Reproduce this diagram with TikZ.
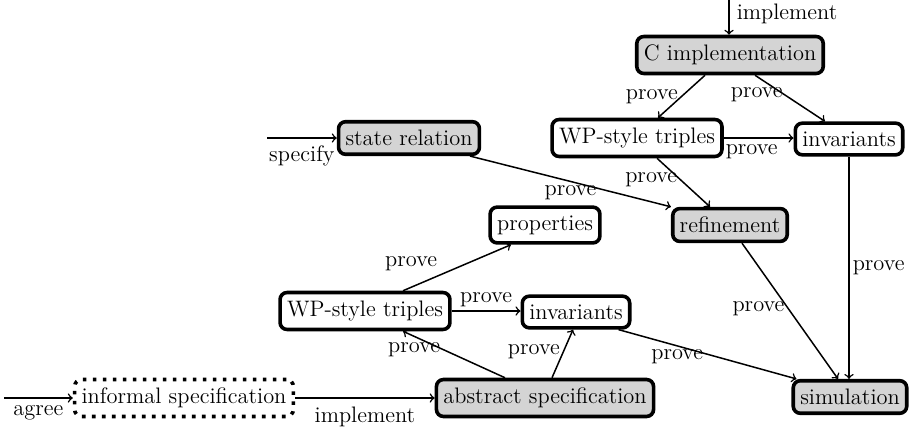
\documentclass[tikz,border=0pt]{standalone}
\usetikzlibrary{calc}
\begin{document}
\begin{tikzpicture}[x=0.5pt,y=-0.5pt,
  txt/.style={font=\fontsize{11.2}{13}\selectfont},
  box/.style={txt, draw, line width=1.8pt, rounded corners=3.5pt, inner xsep=3.5pt, inner ysep=4.2pt},
  shaded/.style={box, fill=black!17},
  plain/.style={box, fill=white},
  dotbox/.style={box, dash pattern=on 1.8pt off 3.2pt},
  arr/.style={->, line width=0.75pt},
  lab/.style={txt, inner sep=1.5pt}]
\useasboundingbox (0,0) rectangle (915,428);

\node[shaded] (C)    at (730,55)  {C implementation};
\node[plain]  (WPt)  at (637,138) {WP-style triples};
\node[plain]  (invt) at (849,139) {invariants};
\node[shaded] (sr)   at (409,138) {state relation};
\node[shaded] (ref)  at (730,225) {refinement};
\node[plain]  (prop) at (545,225) {properties};
\node[plain]  (WPb)  at (365,311) {WP-style triples};
\node[plain]  (invb) at (576,312) {invariants};
\node[shaded] (abs)  at (545,398) {abstract specification};
\node[dotbox] (inf)  at (184,398) {informal specification};
\node[shaded] (sim)  at (850,397) {simulation};

\coordinate (ti) at (729,0);
\coordinate (ta) at (4,398);
\coordinate (ts) at (267,138);

\draw[arr] (ti) -- (ti |- C.north) node[lab, pos=0.4, right=2pt] {implement};
\draw[arr] ($(C.south)+(-25,0)$) -- ($(WPt.north)+(21,0)$) node[lab, pos=0.5, left] {prove};
\draw[arr] ($(C.south)+(25,0)$) -- ($(invt.north)+(-24,0)$) node[lab, pos=0.42, left=-1pt] {prove};
\draw[arr] (WPt.east) -- (WPt.east -| invt.west) node[lab, pos=0.4, below=1.5pt] {prove};
\draw[arr] ($(WPt.south)+(20,0)$) -- ($(ref.north)+(-20,0)$) node[lab, pos=0.45, left] {prove};
\draw[arr] ($(sr.south)+(61,0)$) -- (ref.north west) node[lab, pos=0.5, below] {prove};
\draw[arr] ($(ref.south)+(12,0)$) -- ($(sim.north)+(-12,0)$) node[lab, pos=0.48, left] {prove};
\draw[arr] (invt.south) -- (invt.south |- sim.north) node[lab, pos=0.5, right] {prove};
\draw[arr] ($(WPb.north)+(38,0)$) -- ($(prop.south)+(-34,0)$) node[lab, pos=0.35, above left=0pt] {prove};
\draw[arr] (WPb.east) -- (WPb.east -| invb.west) node[lab, pos=0.5, above] {prove};
\draw[arr] ($(abs.north)+(-40,0)$) -- ($(WPb.south)+(38,0)$) node[lab, pos=0.6, anchor=east] {prove};
\draw[arr] ($(abs.north)+(7,0)$) -- ($(invb.south)+(-3,0)$) node[lab, pos=0.55, left] {prove};
\draw[arr] ($(invb.south east)+(-13,0)$) -- ($(sim.north west)+(5,0)$) node[lab, pos=0.33, anchor=north] {prove};
\draw[arr] (inf.east) -- (abs.west) node[lab, pos=0.5, below=2.5pt] {implement};
\draw[arr] (ta) -- (inf.west) node[lab, pos=0.5, below=2pt] {agree};
\draw[arr] (ts) -- (sr.west) node[lab, pos=0.5, below=2pt] {specify};
\end{tikzpicture}
\end{document}
